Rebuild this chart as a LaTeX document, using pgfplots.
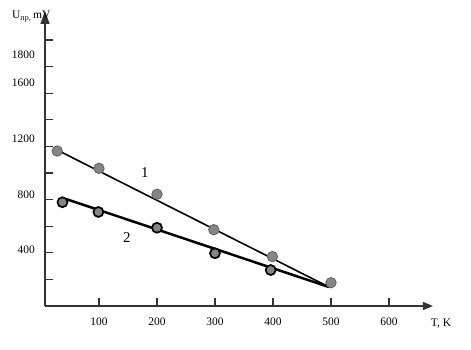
\documentclass[border=0pt]{standalone}
\usepackage{fontspec}
\setmainfont{Liberation Serif}
\usepackage{pgfplots}
\pgfplotsset{compat=1.18}
\usetikzlibrary{arrows.meta}
\definecolor{axcol}{HTML}{333333}
\definecolor{mk}{HTML}{858585}
\begin{document}
\begin{tikzpicture}
\useasboundingbox (-45bp,-44bp) rectangle (426bp,306bp);
\begin{axis}[
  at={(0,0)}, anchor=south west,
  scale only axis, width=388bp, height=295bp,
  xmin=6.9, xmax=675.9, ymin=0, ymax=2115,
  axis lines=left,
  x axis line style={line width=1.3bp, axcol, -{Triangle[length=10bp,width=8bp]}},
  y axis line style={line width=1.3bp, axcol, -{Triangle[length=13bp,width=9bp]}},
  tick style={line width=1.1bp, axcol},
  tick align=inside, major tick length=8bp,
  xtick={100,200,300,400,500,600},
  xticklabel style={inner sep=0pt, yshift=-12bp, font=\fontsize{11.5}{13}\selectfont},
  ytick={190.7,381.4,572.1,762.8,953.5,1144.2,1334.9,1525.6,1716.3,1907},
  yticklabels={},
  extra y ticks={400,800,1200,1600,1800},
  extra y tick labels={400,800,1200,1600,1800},
  extra y tick style={major tick length=0pt, yticklabel style={inner sep=0pt, xshift=-10bp, font=\fontsize{11.5}{13}\selectfont}},
  /pgf/number format/assume math mode=true,
  clip=false,
]
% curve 1 fitted line
\addplot[black, line width=1.6bp] coordinates {(27.6,1119) (496.6,136)};
% curve 2 fitted line
\addplot[black, line width=2.5bp] coordinates {(43.1,767) (496.6,136)};
% curve 1 points
\addplot[only marks, mark=*, mark size=5.2bp, mark options={fill=mk, draw=black!60, line width=0.9bp}]
  coordinates {(28,1111) (100,987) (200,801) (298,547) (399,354) (500,167)};
% curve 2 points
\addplot[only marks, mark=*, mark size=5bp, mark options={fill=mk, draw=black, line width=1.7bp}]
  coordinates {(37,744) (99,674) (200,561) (300,378) (396,258)};
\node[font=\fontsize{15}{17}\selectfont] at (axis cs:179,956) {1};
\node[font=\fontsize{15}{17}\selectfont] at (axis cs:148,493) {2};
\end{axis}
\node[anchor=base west, inner sep=0pt, font=\fontsize{11.5}{13}\selectfont] at (-33bp,287.5bp) {U\textsubscript{пр,}\,mV};
\node[font=\fontsize{11.5}{13}\selectfont] at (396bp,-18bp) {T, K};
\end{tikzpicture}
\end{document}
